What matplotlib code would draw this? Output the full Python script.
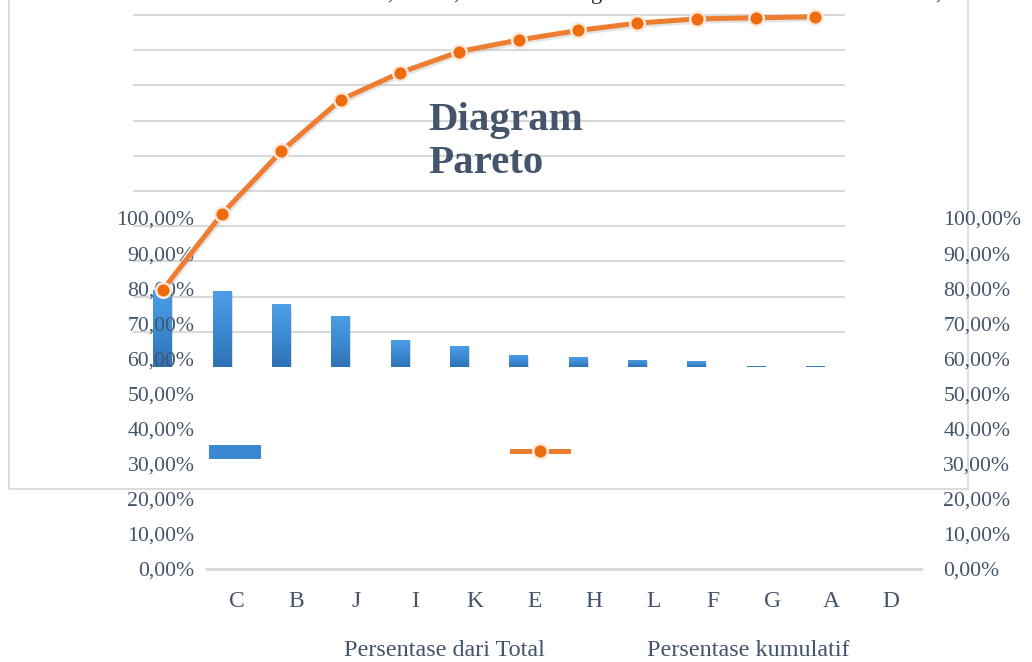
import numpy as np
import matplotlib
matplotlib.use("Agg")
import matplotlib.pyplot as plt
from matplotlib.colors import LinearSegmentedColormap
from matplotlib.patches import Rectangle
from matplotlib.lines import Line2D

# pareto data (percent)
kategori = ["C", "B", "J", "I", "K", "E", "H", "L", "F", "G", "A", "D"]
persen_total = [21.9, 21.6, 17.8, 14.6, 7.7, 6.0, 3.3, 2.7, 2.1, 1.6, 0.4, 0.3]
persen_kumulatif = [21.9, 43.5, 61.3, 75.9, 83.6, 89.6, 92.9, 95.6, 97.7, 98.9, 99.2, 99.5]
tick_persen = [0, 10, 20, 30, 40, 50, 60, 70, 80, 90, 100]
tick_label = ["%d,00%%" % t for t in tick_persen]

W, H = 1032, 662
teks = "#44546A"
grid_c = "#D9D9D9"
oranye = "#ED7D31"
serif = ["Liberation Serif", "DejaVu Serif"]

def fx(px):
    return px / W

def fy(py):
    return 1 - py / H

fig = plt.figure(figsize=(W / 100, H / 100), dpi=100)

# chart area border
fig.add_artist(Rectangle((fx(9), fy(489)), fx(968) - fx(9), fy(-10) - fy(489),
                         transform=fig.transFigure, fill=False, ec=grid_c, lw=1.3, zorder=0))

# bits of a text line that sits above the chart
for x, s in [(390, ","), (456, ","), (597, "g"), (938, ",")]:
    fig.text(fx(x), 1 + 1.5 / H, s, fontsize=16, family=serif, color="#222222",
             ha="center", va="baseline")

# plot area with bars
y0, y100 = 367, 15
px_per = (y0 - y100) / 100.0
top = 101
ax_bar = fig.add_axes([fx(133), fy(y0), fx(845) - fx(133), top * px_per / H])
ax_bar.set_xlim(-0.5, len(kategori) - 0.5)
ax_bar.set_ylim(0, top)
for s in ax_bar.spines.values():
    s.set_visible(False)
ax_bar.set_yticks(tick_persen[1:])
ax_bar.set_xticks([])
ax_bar.tick_params(left=False, labelleft=False)
ax_bar.yaxis.grid(True, color=grid_c, lw=1.5)
ax_bar.set_axisbelow(True)
ax_bar.patch.set_alpha(0)

x = np.arange(len(kategori))
cmap = LinearSegmentedColormap.from_list("biru", ["#2E72B3", "#3D8AD4", "#4C9FE6"])
grad = np.linspace(0, 1, 100).reshape(-1, 1)
bars = ax_bar.bar(x, persen_total, width=0.32, color="#3B88D2", zorder=2)
for b in bars:
    # drop shadow
    ax_bar.add_patch(Rectangle((b.get_x() + 0.02, -0.35), b.get_width(), b.get_height(),
                               color="#9AA3AD", alpha=0.35, lw=0, zorder=1.5))
    im = ax_bar.imshow(grad, extent=[b.get_x(), b.get_x() + b.get_width(), 0, max(b.get_height(), 0.3)],
                       origin="lower", aspect="auto", cmap=cmap, zorder=2.5)
    im.set_clip_path(b)
ax_bar.set_xlim(-0.5, len(kategori) - 0.5)
ax_bar.set_ylim(0, top)

# axis with labels
ax_out = fig.add_axes([fx(207), fy(569), fx(921) - fx(207), 351 / H])
ax_out.patch.set_alpha(0)
ax_out.set_xlim(-0.5, len(kategori) - 0.5)
ax_out.set_ylim(0, 100)
for k in ["top", "left", "right"]:
    ax_out.spines[k].set_visible(False)
ax_out.spines["bottom"].set_color(grid_c)
ax_out.spines["bottom"].set_linewidth(2.2)
ax_out.set_xticks(x)
ax_out.set_xticklabels(kategori, family=serif, fontsize=17, color=teks)
ax_out.set_yticks(tick_persen)
ax_out.set_yticklabels(tick_label, family=serif, fontsize=15.7, color=teks)
ax_out.tick_params(axis="x", length=0, pad=15.5)
ax_out.tick_params(axis="y", length=0, pad=9)

ax_r = ax_out.twinx()
ax_r.set_ylim(0, 100)
for s in ax_r.spines.values():
    s.set_visible(False)
ax_r.set_yticks(tick_persen)
ax_r.set_yticklabels(tick_label, family=serif, fontsize=15.7, color=teks)
ax_r.tick_params(axis="y", length=0, pad=16)

# cumulative line on top
ax_line = fig.add_axes(ax_bar.get_position())
ax_line.set_xlim(-0.5, len(kategori) - 0.5)
ax_line.set_ylim(0, top)
ax_line.axis("off")
ax_line.plot(x, persen_kumulatif, color="#B0B0B0", lw=4, alpha=0.35, clip_on=False,
             transform=ax_line.transData + matplotlib.transforms.ScaledTranslation(1 / 100, -2 / 100, fig.dpi_scale_trans))
ax_line.plot(x, persen_kumulatif, color=oranye, lw=3.6, marker="o", ms=10.5,
             mfc="#EF6C0E", mec="#FCE9DC", mew=1.8, clip_on=False, solid_capstyle="round")

# title
fig.text(fx(428), fy(173), "Diagram\nPareto", family=serif, fontsize=29.5, fontweight="bold",
         color=teks, ha="left", va="baseline", linespacing=1.2)

# legend
fig.add_artist(Rectangle((fx(209), fy(459)), fx(261) - fx(209), fy(445) - fy(459),
                         transform=fig.transFigure, color="#3B88D2", lw=0))
fig.add_artist(Line2D([fx(512), fx(568)], [fy(451), fy(451)], transform=fig.transFigure,
                      color=oranye, lw=3.6))
fig.add_artist(Line2D([fx(540)], [fy(451)], transform=fig.transFigure, marker="o", ms=10.5,
                      mfc="#EF6C0E", mec="#FCE9DC", mew=1.8, lw=0))
fig.text(fx(444), fy(651), "Persentase dari Total", family=serif, fontsize=17.4, color=teks,
         ha="center", va="center")
fig.text(fx(748), fy(651), "Persentase kumulatif", family=serif, fontsize=17.4, color=teks,
         ha="center", va="center")

fig.savefig("out.png", dpi=100)
